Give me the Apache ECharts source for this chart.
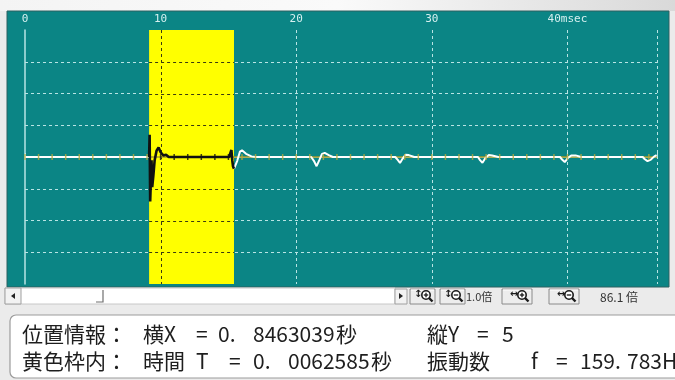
<!DOCTYPE html>
<html><head><meta charset="utf-8">
<script src="https://cdn.jsdelivr.net/npm/echarts@6/dist/echarts.min.js"></script>
<style>html,body{margin:0;padding:0;background:#ebebeb;} #c{width:675px;height:380px;}</style>
</head><body><div id="c"></div>
<script>
// ---- data ----
const xTicks = [0, 10, 20, 30, 40];
const xTickLabels = ['0', '10', '20', '30', '40msec'];
const xMin = 0, xMax = 46.6;
const yMin = -4, yMax = 4, yStep = 1;
const highlightStart = 9.15, highlightEnd = 15.41; // ms (yellow frame)
const signalTime = [0, 9.15, 9.19, 9.23, 9.29, 9.33, 9.38, 9.46, 9.56, 9.7, 9.85, 10.0, 10.2, 10.4, 10.6,
  15.05, 15.15, 15.22, 15.28, 15.34, 15.42, 15.5, 15.65, 15.85, 16.0, 16.3, 16.7, 17.0,
  21.1, 21.3, 21.5, 21.7, 21.9, 22.1, 22.4, 22.7,
  27.3, 27.5, 27.65, 27.85, 28.05, 28.3, 28.7,
  33.4, 33.55, 33.73, 33.95, 34.2, 34.45, 34.9,
  39.45, 39.6, 39.8, 40.05, 40.3, 40.6, 41.0,
  45.55, 45.7, 45.9, 46.15, 46.4, 46.57];
const signalValue = [0, 0, 0.7, -1.4, -1.35, -0.1, -0.95, -0.6, -0.1, 0.2, 0.3, 0.15, 0.05, 0.07, 0,
  0, 0.05, 0.22, -0.1, -0.3, -0.38, -0.42, -0.12, 0.17, 0.21, 0.1, 0.02, 0,
  0, -0.12, -0.29, -0.1, 0.1, 0.13, 0.06, 0,
  0, -0.1, -0.19, -0.05, 0.07, 0.06, 0,
  0, -0.1, -0.18, -0.03, 0.06, 0.05, 0,
  0, -0.08, -0.16, -0.02, 0.05, 0.05, 0,
  0, -0.07, -0.13, -0.08, 0.02, 0.06];
const referenceTime = [0, 46.6];
const referenceValue = [0, 0];
const markerTimes = [0,1,2,3,4,5,6,7,8,9,10,11,12,13,14,15,16,17,18,19,20,21,22,23,24,25,26,27,28,29,30,31,32,33,34,35,36,37,38,39,40,41,42,43,44,45,46];
const markerValues = markerTimes.map(() => 0);
// info panel texts: [text, x]
const infoLine1 = [['位置情報：', 22], ['横X', 143], ['=', 196], ['0.', 218], ['8463039', 253], ['秒', 336], ['縦Y', 427], ['=', 477], ['5', 502]];
const infoLine2 = [['黄色枠内：', 22], ['時間', 143], ['T', 196], ['=', 229], ['0.', 253], ['0062585', 288], ['秒', 371], ['振動数', 427], ['f', 531], ['=', 556], ['159.', 580], ['783Hz', 627]];

// ---- build ----
function interp(t) {
  for (let i = 1; i < signalTime.length; i++) {
    if (signalTime[i] >= t) {
      const a = signalTime[i-1], b = signalTime[i];
      return signalValue[i-1] + (signalValue[i]-signalValue[i-1]) * (t-a)/(b-a);
    }
  }
  return signalValue[signalValue.length-1];
}
const before = [], inside = [], after = [];
signalTime.forEach((t, i) => {
  const p = [t, signalValue[i]];
  if (t < highlightStart) before.push(p);
  else if (t <= highlightEnd) inside.push(p);
  else after.push(p);
});
before.push([highlightStart, interp(highlightStart)]);
inside.unshift([highlightStart, interp(highlightStart)]);
inside.push([highlightEnd, interp(highlightEnd)]);
after.unshift([highlightEnd, interp(highlightEnd)]);
const whiteData = before.concat([[null, null]], after).map(p => p[0] === null ? '-' : p);

const yGrid = [];
for (let v = yMin + yStep; v < yMax; v += yStep) if (v !== 0) yGrid.push(v);

const gridC = '#b8e4e4';
const teal = '#0b8585';

function mag(cx, cy, plus, arrowV) {
  const els = [
    {type:'circle', shape:{cx:cx, cy:cy, r:4.2}, style:{fill:'#fff', stroke:'#1a1a1a', lineWidth:1.6}},
    {type:'line', shape:{x1:cx+3, y1:cy+3, x2:cx+6.5, y2:cy+6.5}, style:{stroke:'#1a1a1a', lineWidth:2.4}},
    {type:'line', shape:{x1:cx-2.2, y1:cy, x2:cx+2.2, y2:cy}, style:{stroke:'#1a1a1a', lineWidth:1.3}}
  ];
  if (plus) els.push({type:'line', shape:{x1:cx, y1:cy-2.2, x2:cx, y2:cy+2.2}, style:{stroke:'#1a1a1a', lineWidth:1.3}});
  els.push({type:'text', style:{text: arrowV ? '↕' : '↔', x: cx-12, y: cy-1, font:'bold 10px "DejaVu Sans"', fill:'#1a1a1a', textVerticalAlign:'middle'}});
  return els;
}
function btn(x1, x2) {
  return [
    {type:'rect', shape:{x:x1, y:289, width:x2-x1, height:15}, style:{fill:'#ededed', stroke:'#8a8a8a', lineWidth:1}},
    {type:'line', shape:{x1:x1+1, y1:290, x2:x2-1, y2:290}, style:{stroke:'#ffffff', lineWidth:1}}
  ];
}

const graphics = [
  {type:'rect', z:-20, shape:{x:0, y:0, width:675, height:380}, style:{fill:'#ebebeb'}},
  {type:'rect', z:-19, shape:{x:0, y:0, width:675, height:11}, style:{fill:new echarts.graphic.LinearGradient(0,0,1,0,[{offset:0,color:'#f4f4f4'},{offset:0.5,color:'#fafafa'},{offset:1,color:'#d9d9d9'}])}},
  {type:'rect', z:-18, shape:{x:7, y:11, width:662, height:276}, style:{fill:teal, stroke:'#2c6060', lineWidth:1}},
  // scrollbar
  {type:'rect', shape:{x:5, y:288, width:390, height:16}, style:{fill:'#ffffff', stroke:'#c8c8c8', lineWidth:1}},
  {type:'rect', shape:{x:5, y:288, width:16, height:16}, style:{fill:'#f2f2f2', stroke:'#a0a0a0', lineWidth:1}},
  {type:'polygon', shape:{points:[[11,296],[15,293],[15,299]]}, style:{fill:'#222'}},
  {type:'polyline', shape:{points:[[103,290],[103,302],[96,302]]}, style:{stroke:'#707070', lineWidth:1.2, fill:null}},
  {type:'rect', shape:{x:395, y:289, width:12, height:15}, style:{fill:'#f2f2f2', stroke:'#a0a0a0', lineWidth:1}},
  {type:'polygon', shape:{points:[[403,296],[399,293],[399,299]]}, style:{fill:'#222'}},
].concat(btn(410, 435), mag(426, 295, true, true),
         btn(440, 465), mag(456, 295, false, true),
         [{type:'text', style:{text:'1.0倍', x:466, y:297, font:'11px "Noto Sans CJK JP"', fill:'#333', textVerticalAlign:'middle'}}],
         btn(502, 532), mag(522, 295, true, false),
         btn(549, 579), mag(569, 295, false, false),
         [{type:'text', style:{text:'86.1 倍', x:600, y:297, font:'12px "Noto Sans CJK JP"', fill:'#333', textVerticalAlign:'middle'}}],
  [
  // info box
  {type:'rect', shape:{x:10, y:315, width:670, height:63, r:[6,0,0,6]}, style:{fill:'#ffffff', stroke:'#9c9c9c', lineWidth:1.2}}
]);
const infoFont = '21px "Noto Sans CJK JP"';
function putLine(items, y) {
  items.forEach(([s, x]) => {
    graphics.push({type:'text', style:{text:s, x:x, y:y, font:infoFont, fill:'#1e1e1e', textVerticalAlign:'middle'}});
  });
}
putLine(infoLine1, 334);
putLine(infoLine2, 361);

const chart = echarts.init(document.getElementById('c'), null, {renderer:'canvas'});
chart.setOption({
  animation: false,
  backgroundColor: 'transparent',
  graphic: graphics,
  grid: {left: 25, right: 18, top: 30, bottom: 96, containLabel: false},
  xAxis: {
    type: 'value', position: 'top', min: xMin, max: xMax, interval: 10,
    axisLine: {show: true, lineStyle: {color: gridC, width: 1.2}},
    axisTick: {show: true, length: 4, lineStyle: {color: gridC}},
    axisLabel: {color: '#d6f0f0', fontFamily: 'DejaVu Sans Mono', fontSize: 11, margin: 5,
      formatter: v => { const i = xTicks.indexOf(v); return i >= 0 ? xTickLabels[i] : ''; }},
    splitLine: {show: true, showMinLine: false, lineStyle: {color: gridC, type: [3, 3], width: 1}}
  },
  yAxis: {
    type: 'value', min: yMin, max: yMax, interval: yStep,
    axisLine: {show: true, onZero: false, lineStyle: {color: gridC, width: 1.5}},
    axisTick: {show: false}, axisLabel: {show: false},
    splitLine: {show: true, showMinLine: false, showMaxLine: false, lineStyle: {color: gridC, type: [3, 3], width: 1}}
  },
  series: [
    {
      type: 'custom', z: 1, silent: true,
      data: [[highlightStart, highlightEnd]],
      renderItem: (params, api) => {
        const s = api.value(0), e = api.value(1);
        const a = api.coord([s, yMax]), b = api.coord([e, yMin]);
        const ch = [{type:'rect', shape:{x:a[0], y:a[1], width:b[0]-a[0], height:b[1]-a[1]}, style:{fill:'#ffff00'}}];
        yGrid.forEach(v => {
          const p = api.coord([s, v]), q = api.coord([e, v]);
          ch.push({type:'line', shape:{x1:p[0], y1:Math.round(p[1])+0.5, x2:q[0], y2:Math.round(q[1])+0.5}, style:{stroke:'#3a3a10', lineWidth:1, lineDash:[3,3]}});
        });
        xTicks.forEach(t => {
          if (t > s && t < e) {
            const p = api.coord([t, yMax]), q = api.coord([t, yMin]);
            ch.push({type:'line', shape:{x1:Math.round(p[0])+0.5, y1:p[1], x2:Math.round(q[0])+0.5, y2:q[1]}, style:{stroke:'#3a3a10', lineWidth:1, lineDash:[3,3]}});
          }
        });
        return {type:'group', children: ch};
      }
    },
    {type:'line', z:3, data: referenceTime.map((t,i)=>[t, referenceValue[i]]), showSymbol:false, lineStyle:{color:'#a99d2a', width:1.5}},
    {type:'line', z:4, data: whiteData, connectNulls:false, showSymbol:false, lineStyle:{color:'#ffffff', width:2}},
    {type:'line', z:5, data: inside, showSymbol:false, lineStyle:{color:'#111111', width:2.6}},
    {type:'scatter', z:6, data: markerTimes.map((t,i)=>[t, markerValues[i]]), symbol:'rect', symbolSize:[1.5, 6],
      itemStyle:{color: p => (p.value[0] > highlightStart && p.value[0] < highlightEnd) ? '#111' : '#b5a83a'}}
  ]
});
</script></body></html>
